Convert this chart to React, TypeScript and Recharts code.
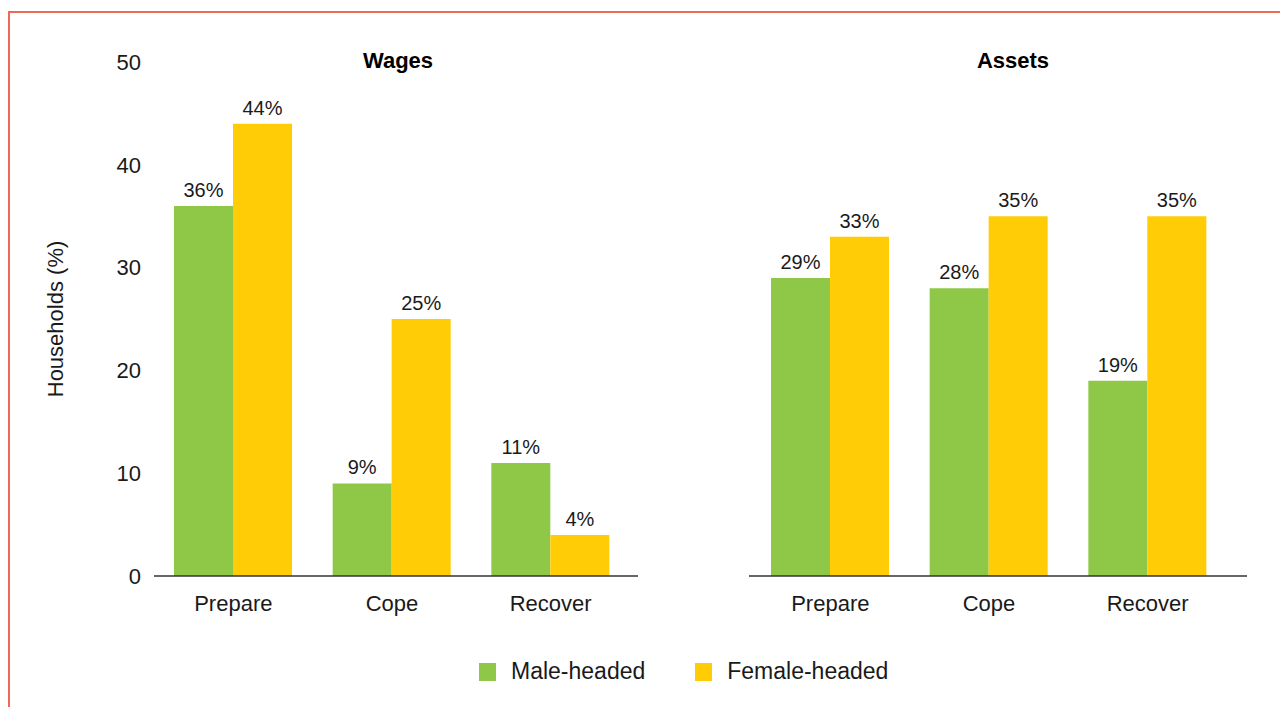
import { Bar, BarChart, LabelList, XAxis, YAxis } from 'recharts';

const categories = ['Prepare', 'Cope', 'Recover'];
const wagesMale = [36, 9, 11];
const wagesFemale = [44, 25, 4];
const assetsMale = [29, 28, 19];
const assetsFemale = [33, 35, 35];
const yTicks = [0, 10, 20, 30, 40, 50];

const GREEN = '#8FC846';
const YELLOW = '#FFCC05';
const FONT = '"Liberation Sans", Arial, Helvetica, sans-serif';
const INK = '#1a1a1a';

const build = (male: number[], female: number[]) =>
  categories.map((c, i) => ({ cat: c, male: male[i], female: female[i] }));

const wagesData = build(wagesMale, wagesFemale);
const assetsData = build(assetsMale, assetsFemale);

const pct = (v: any) => `${v}%`;

interface PanelProps {
  data: Array<Record<string, string | number>>;
  width: number;
  showY: boolean;
  padLeft: number;
  padRight: number;
}

function Panel({ data, width, showY, padLeft, padRight }: PanelProps) {
  return (
    <BarChart
      width={width}
      height={620}
      data={data}
      margin={{ top: 62, right: 0, left: 0, bottom: 0 }}
      barGap={0}
      barSize={59}
    >
      <XAxis
        dataKey="cat"
        tickLine={false}
        tickMargin={13}
        height={44}
        padding={{ left: padLeft, right: padRight }}
        axisLine={{ stroke: '#333', strokeWidth: 1.5 }}
        tick={{ fontSize: 22, fill: INK, fontFamily: FONT }}
      />
      <YAxis
        hide={!showY}
        width={154}
        domain={[0, 50]}
        ticks={yTicks}
        axisLine={false}
        tickLine={false}
        tickMargin={7}
        tick={{ fontSize: 22, fill: INK, fontFamily: FONT }}
        label={{
          value: 'Households (%)',
          angle: -90,
          position: 'insideLeft',
          offset: 55,
          style: { textAnchor: 'middle', fontSize: 22, fill: INK, fontFamily: FONT },
        }}
      />
      <Bar dataKey="male" fill={GREEN} isAnimationActive={false}>
        <LabelList
          dataKey="male"
          position="top"
          offset={9}
          formatter={pct}
          style={{ fontSize: 20, fill: INK, fontFamily: FONT }}
        />
      </Bar>
      <Bar dataKey="female" fill={YELLOW} isAnimationActive={false}>
        <LabelList
          dataKey="female"
          position="top"
          offset={9}
          formatter={pct}
          style={{ fontSize: 20, fill: INK, fontFamily: FONT }}
        />
      </Bar>
    </BarChart>
  );
}

export default function App() {
  const title = {
    position: 'absolute' as const,
    top: 48,
    fontFamily: FONT,
    fontWeight: 700,
    fontSize: 22,
    color: '#000',
    transform: 'translateX(-50%)',
    whiteSpace: 'nowrap' as const,
  };
  const swatch = { display: 'inline-block', width: 17, height: 18, marginRight: 15 };
  return (
    <div
      style={{
        position: 'absolute',
        left: 0,
        top: 0,
        width: 1280,
        height: 707,
        background: '#fff',
        overflow: 'hidden',
        fontFamily: FONT,
      }}
    >
      <div style={{ position: 'absolute', left: 8, top: 11, width: 1272, height: 2, background: '#EF6A55' }} />
      <div style={{ position: 'absolute', left: 8, top: 11, width: 2, height: 696, background: '#EF6A55' }} />

      <div style={{ position: 'absolute', left: 0, top: 0 }}>
        <Panel data={wagesData} width={638} showY padLeft={0} padRight={8} />
      </div>
      <div style={{ position: 'absolute', left: 749, top: 0 }}>
        <Panel data={assetsData} width={498} showY={false} padLeft={2} padRight={20} />
      </div>

      <div style={{ ...title, left: 398 }}>Wages</div>
      <div style={{ ...title, left: 1013 }}>Assets</div>

      <div
        style={{
          position: 'absolute',
          top: 658,
          left: 479,
          display: 'flex',
          alignItems: 'center',
          fontSize: 23,
          color: INK,
          whiteSpace: 'nowrap',
        }}
      >
        <span style={{ ...swatch, background: GREEN }} />
        <span style={{ marginRight: 50 }}>Male-headed</span>
        <span style={{ ...swatch, background: YELLOW }} />
        <span>Female-headed</span>
      </div>
    </div>
  );
}
